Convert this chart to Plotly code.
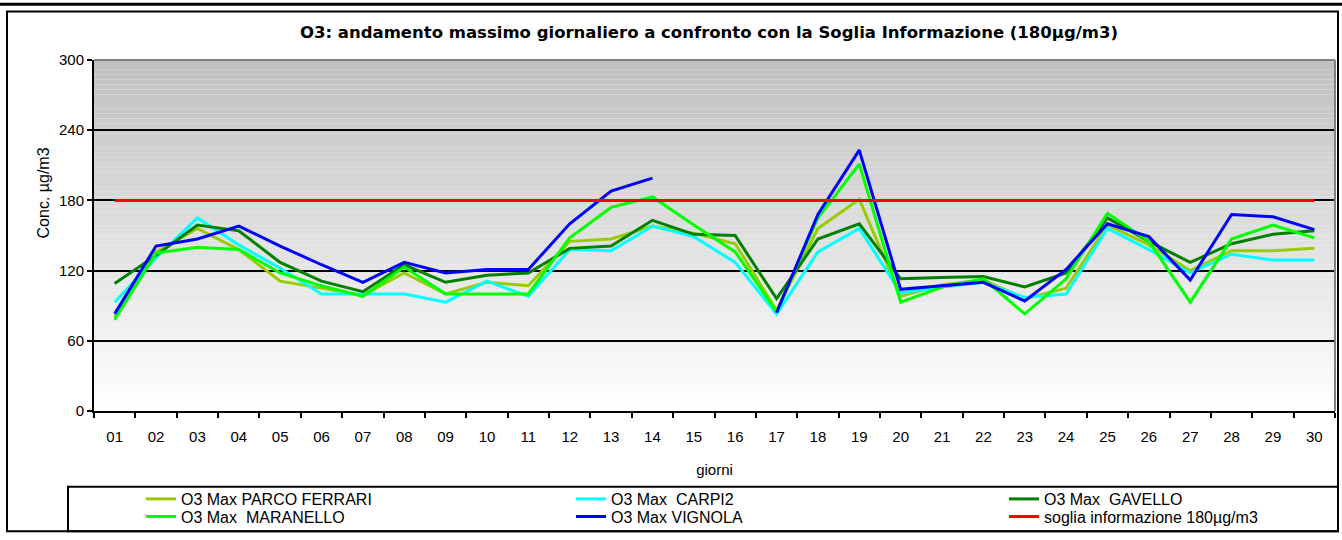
import plotly.graph_objects as go

# --- dati: massimi giornalieri O3 (µg/m3) ---
giorni = ["01", "02", "03", "04", "05", "06", "07", "08", "09", "10",
          "11", "12", "13", "14", "15", "16", "17", "18", "19", "20",
          "21", "22", "23", "24", "25", "26", "27", "28", "29", "30"]

parco_ferrari = [80, 136, 156, 138, 111, 105, 99, 118, 100, 110,
                 107, 145, 147, 158, 152, 143, 86, 156, 181, 98,
                 108, 112, 96, 105, 159, 142, 120, 137, 137, 139]
carpi2 = [93, 131, 165, 142, 122, 100, 100, 100, 93, 111,
          98, 138, 137, 158, 149, 127, 83, 136, 156, 101,
          106, 110, 97, 100, 156, 138, 118, 134, 129, 129]
gavello = [109, 133, 159, 154, 127, 111, 102, 125, 110, 116,
           118, 139, 141, 163, 151, 150, 96, 147, 160, 113,
           114, 115, 106, 118, 165, 145, 127, 143, 151, 154]
maranello = [78, 135, 140, 138, 118, 107, 98, 123, 100, 100,
             100, 148, 174, 183, 159, 136, 85, 165, 211, 93,
             106, 113, 83, 113, 169, 145, 93, 147, 159, 148]
vignola = [83, 141, 147, 158, 141, 125, 110, 127, 118, 121,
           121, 160, 188, 199, None, None, 84, 168, 223, 104,
           107, 110, 94, 121, 160, 149, 112, 168, 166, 155]
soglia = [180] * 30

# --- geometria pagina (pixel) ---
W, H = 1342, 540
L, R, T, B = 94, 7, 60, 121
PW = W - L - R
PH = H - T - B


def px(x):
    return (x - L) / PW


def py(y):
    return (H - B - y) / PH


# nome, valori, colore, posizione voce legenda (x testo, y riga)
serie = [
    ("O3 Max PARCO FERRARI", parco_ferrari, "#99CC00", 183, 509),
    ("O3 Max \u00a0CARPI2", carpi2, "#00FFFF", 613, 509),
    ("O3 Max \u00a0GAVELLO", gavello, "#008000", 1046, 509),
    ("O3 Max \u00a0MARANELLO", maranello, "#00FF00", 183, 527),
    ("O3 Max VIGNOLA", vignola, "#0000FF", 613, 527),
    ("soglia informazione 180µg/m3", soglia, "#FF0000", 1046, 527),
]

font = "Liberation Sans, Arial, sans-serif"

fig = go.Figure()
legends = {}
for k, (nome, valori, colore, lx, ly) in enumerate(serie):
    key = "legend" if k == 0 else f"legend{k + 1}"
    fig.add_trace(go.Scatter(
        x=giorni, y=valori, mode="lines", name=nome,
        line=dict(color=colore, width=3),
        connectgaps=False, legend=key, showlegend=True
    ))
    # una legenda per voce, così ogni voce sta al suo posto nel riquadro
    legends[key] = dict(
        x=px(lx - 42), y=py(ly), xanchor="left", yanchor="middle",
        orientation="v", bgcolor="rgba(0,0,0,0)", borderwidth=0,
        font=dict(family=font, size=16, color="black"), itemwidth=30
    )

# sfondo sfumato dell'area del grafico (grigio in alto, bianco in basso)
shapes = []
n = 72
for i in range(n):
    v = round(255 - (255 - 192) * (i + 0.5) / n)
    shapes.append(dict(
        type="rect", xref="x domain", yref="y domain",
        x0=0, x1=1, y0=i / n, y1=(i + 1) / n,
        fillcolor=f"rgb({v},{v},{v})", line=dict(width=0), layer="below"
    ))

# bordi area grafico
shapes.append(dict(type="line", xref="x domain", yref="y domain",
                   x0=0, x1=1, y0=1, y1=1,
                   line=dict(color="#808080", width=2), layer="above"))
shapes.append(dict(type="line", xref="x domain", yref="y domain",
                   x0=1, x1=1, y0=0, y1=1,
                   line=dict(color="#808080", width=2), layer="above"))
# riga nera in alto e cornice esterna
shapes.append(dict(type="line", xref="paper", yref="paper",
                   x0=px(0), x1=px(W), y0=py(3), y1=py(3),
                   line=dict(color="black", width=3)))
shapes.append(dict(type="rect", xref="paper", yref="paper",
                   x0=px(7), x1=px(1338), y0=py(10.5), y1=py(542),
                   line=dict(color="black", width=2)))
# riquadro legenda
shapes.append(dict(type="rect", xref="paper", yref="paper",
                   x0=px(68), x1=px(1338), y0=py(496.5), y1=py(542),
                   line=dict(color="black", width=2)))

fig.update_layout(
    width=W, height=H, autosize=False,
    margin=dict(l=L, r=R, t=T, b=B),
    paper_bgcolor="white",
    plot_bgcolor="white",
    showlegend=True,
    font=dict(family=font, size=15, color="black"),
    title=dict(
        text="<b>O3: andamento massimo giornaliero a confronto con la Soglia Informazione (180µg/m3)</b>",
        x=px(709), xref="paper", xanchor="center",
        y=1 - 32 / H, yref="container", yanchor="middle",
        font=dict(family="DejaVu Sans, sans-serif", size=16.5, color="black")
    ),
    xaxis=dict(
        type="category", range=[-0.5, 29.5],
        showline=True, linecolor="black", linewidth=2,
        ticks="outside", tickson="boundaries", ticklen=5,
        tickwidth=2, tickcolor="black",
        showgrid=False, zeroline=False,
        tickfont=dict(size=15), ticklabelstandoff=11,
        title=dict(text="giorni", font=dict(size=15), standoff=20)
    ),
    yaxis=dict(
        range=[0, 300], tickvals=[0, 60, 120, 180, 240, 300],
        showline=True, linecolor="black", linewidth=2,
        ticks="outside", ticklen=5, tickwidth=2, tickcolor="black",
        showgrid=True, gridcolor="black", gridwidth=2,
        zeroline=False, tickfont=dict(size=15)
    ),
    shapes=shapes,
    annotations=[dict(
        text="Conc. µg/m3", textangle=-90,
        x=px(33), y=py(196), xref="paper", yref="paper",
        showarrow=False, font=dict(size=16)
    )],
    **legends
)

fig.write_html(
    "out.html",
    config={"displayModeBar": False},
    post_script="document.body.style.margin='0px';",
)
